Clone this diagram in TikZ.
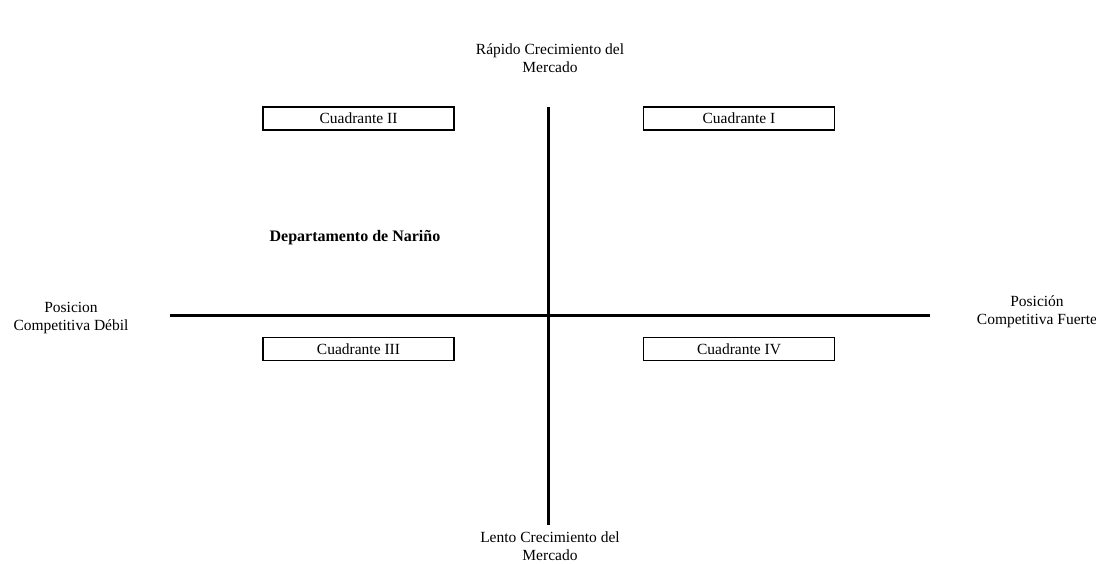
\documentclass[tikz,border=0pt]{standalone}
\usepackage{fontspec}
\setmainfont{Liberation Serif}
\begin{document}
\begin{tikzpicture}[x=1pt,y=-1pt,
  axis/.style={line width=3pt},
  quad/.style={draw,line width=1.8pt,minimum width=191pt,minimum height=23pt,inner sep=0pt,font=\fontsize{15.5}{17}\selectfont},
  lab/.style={align=center,font=\fontsize{15.5}{18.5}\selectfont,inner sep=0pt}]
\useasboundingbox (0,0) rectangle (1096,564);
\coordinate (vt) at (548,107);
\coordinate (vb) at (548,525);
\coordinate (hl) at (170,316);
\coordinate (hr) at (930,316);
\draw[axis] (vt) -- (vb);
\draw[axis] (hl) -- (hr);
\node[quad] (q2) at (358.5,118.5) {Cuadrante II};
\node[quad] (q1) at (739,118.5) {Cuadrante I};
\node[quad] (q3) at (358.5,349) {Cuadrante III};
\node[quad] (q4) at (739,349) {Cuadrante IV};
\node[lab] (top) at (550,58) {Rápido Crecimiento del\\Mercado};
\node[lab] (bot) at (550,546) {Lento Crecimiento del\\Mercado};
\node[lab] (left) at (71,318) {Posicion\\Competitiva Débil};
\node[lab] (right) at (1037,312) {Posición\\Competitiva Fuerte};
\node[lab,font=\bfseries\fontsize{16}{19}\selectfont] (dep) at (355,238) {Departamento de Nariño};
\end{tikzpicture}
\end{document}
